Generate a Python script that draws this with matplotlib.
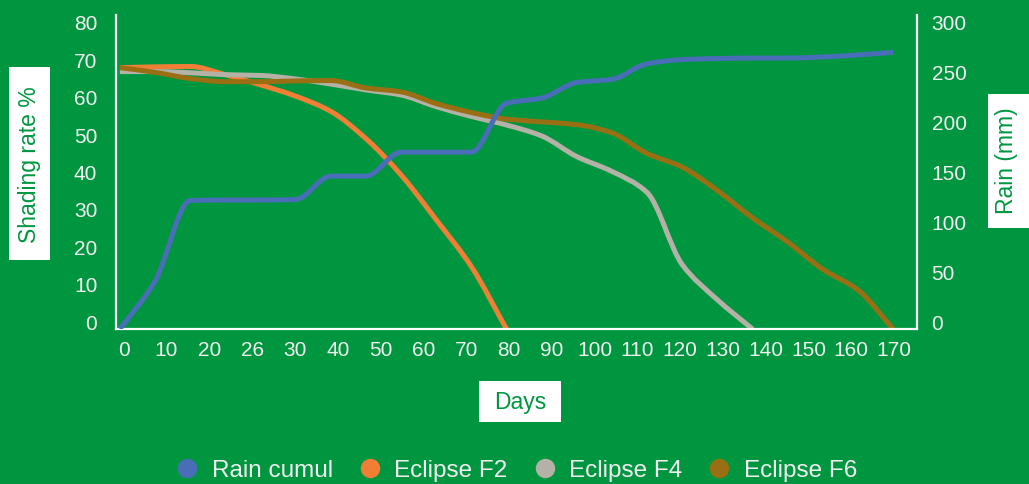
import matplotlib
matplotlib.use("Agg")
import matplotlib.pyplot as plt
from matplotlib.lines import Line2D
from matplotlib.patches import Rectangle, PathPatch
from matplotlib.path import Path
from matplotlib.transforms import ScaledTranslation
import numpy as np

plt.rcParams["font.family"] = ["Liberation Sans", "DejaVu Sans"]

# one reading about every 7.7 days, 23 readings over the season
samples = list(range(23))
rain_cumul = [0, 46, 123.5, 124, 124, 124.5, 147, 147, 170, 170, 170, 217,
              222, 237, 240, 255, 259, 260, 260.5, 260.5, 261.5, 263.5, 266]
eclipse_f2 = [67, 67.2, 67.3, 65.2, 62.6, 59.7, 55.8, 48.8, 39.5, 28, 16, 0]
eclipse_f4 = [66, 66, 65.7, 65.2, 65, 64.1, 62.8, 61.3, 60, 57, 54.5, 52.3,
              49.5, 44.2, 40.4, 35, 16.5, 7.5, 0]
eclipse_f6 = [67, 65.8, 64.2, 63.4, 63.4, 63.6, 63.7, 61.8, 60.8, 57.8, 55.5,
              53.8, 53.1, 52.4, 50.3, 45, 41.5, 35.5, 28.5, 22.3, 15.3, 10, 0]
day_labels = ["0", "10", "20", "26", "30", "40", "50", "60", "70", "80", "90",
              "100", "110", "120", "130", "140", "150", "160", "170"]

GREEN = "#00963f"
TXT = "#f0f0f0"
c_rain, c_f2, c_f4, c_f6 = "#4a6db8", "#f07f35", "#b5b1a6", "#9a6f14"


def smooth_line(a, xs, ys, color, lw=3.6):
    # smoothed line through the points (monotone cubic, drawn as bezier segments)
    x = np.asarray(xs, float)
    y = np.asarray(ys, float)
    d = np.diff(y) / np.diff(x)
    m = np.empty_like(y)
    m[0], m[-1] = d[0], d[-1]
    for k in range(1, len(y) - 1):
        if d[k - 1] * d[k] <= 0:
            m[k] = 0
        else:
            m[k] = 2 / (1 / d[k - 1] + 1 / d[k])
    verts = [(x[0], y[0])]
    codes = [Path.MOVETO]
    for k in range(len(y) - 1):
        h = x[k + 1] - x[k]
        verts += [(x[k] + h / 3, y[k] + m[k] * h / 3),
                  (x[k + 1] - h / 3, y[k + 1] - m[k + 1] * h / 3),
                  (x[k + 1], y[k + 1])]
        codes += [Path.CURVE4] * 3
    a.add_patch(PathPatch(Path(verts, codes), fill=False, edgecolor=color,
                          linewidth=lw, joinstyle="round"))


W, H = 1029, 485
fig = plt.figure(figsize=(W / 100, H / 100), dpi=100, facecolor=GREEN)
ax = fig.add_axes([116 / W, 155 / H, (917 - 116) / W, (330 - 16) / H])
ax.set_facecolor(GREEN)
ax2 = ax.twinx()

smooth_line(ax, samples[:len(eclipse_f2)], eclipse_f2, c_f2)
smooth_line(ax, samples[:len(eclipse_f4)], eclipse_f4, c_f4)
smooth_line(ax, samples[:len(eclipse_f6)], eclipse_f6, c_f6)
smooth_line(ax2, samples, rain_cumul, c_rain)

ax.set_xlim(-0.11, 22.68)
ax.set_ylim(0, 80.5)
ax2.set_ylim(0, 80.5 * 300 / 80)
ax.set_yticks(range(0, 81, 10))
ax2.set_yticks(range(0, 301, 50))
ax.set_xticks(np.linspace(0.11, 22.03, len(day_labels)))
ax.set_xticklabels(day_labels)

for a in (ax, ax2):
    for s in a.spines.values():
        s.set_visible(False)
ax.spines["left"].set_visible(True)
ax.spines["bottom"].set_visible(True)
ax2.spines["right"].set_visible(True)
for s in (ax.spines["left"], ax.spines["bottom"], ax2.spines["right"]):
    s.set_color("white")
    s.set_linewidth(1.6)

ax.tick_params(axis="y", length=0, pad=13.5, labelsize=15, labelcolor=TXT)
ax.tick_params(axis="x", length=0, pad=8, labelsize=15, labelcolor=TXT)
ax2.tick_params(axis="y", length=0, pad=10.5, labelsize=15, labelcolor=TXT)

# the value labels sit on a slightly tighter grid than the plotted lines
for a in (ax, ax2):
    labels = a.get_yticklabels()
    n = len(labels) - 1
    for i, lab in enumerate(labels):
        dy = (8 - 13 * i / n) / 100
        lab.set_transform(lab.get_transform() + ScaledTranslation(0, dy, fig.dpi_scale_trans))


def label_box(x0, y0, x1, y1, text, cx, cy, rot=0):
    fig.add_artist(Rectangle((x0 / W, 1 - y1 / H), (x1 - x0) / W, (y1 - y0) / H,
                             transform=fig.transFigure, facecolor="white",
                             edgecolor="none"))
    fig.text(cx / W, 1 - cy / H, text, rotation=rot, ha="center", va="center",
             color=GREEN, fontsize=16.5)


label_box(9, 68, 50, 261, "Shading rate %", 29.5, 164.5, 90)
label_box(988, 95, 1035, 229, "Rain (mm)", 1007, 161, 90)
label_box(479, 382, 561, 423, "Days", 520, 402)

handles = [Line2D([], [], ls="none", marker="o", markersize=14, color=c,
                  markeredgewidth=0)
           for c in (c_rain, c_f2, c_f4, c_f6)]
fig.legend(handles, ["Rain cumul", "Eclipse F2", "Eclipse F4", "Eclipse F6"],
           loc="center", bbox_to_anchor=(516 / W, 1 - 471 / H), ncol=4,
           frameon=False, fontsize=17.5, handlelength=1.0, handletextpad=0.5,
           columnspacing=1.03, labelcolor=TXT, borderpad=0)

fig.savefig("out.png", dpi=100, facecolor=GREEN)
